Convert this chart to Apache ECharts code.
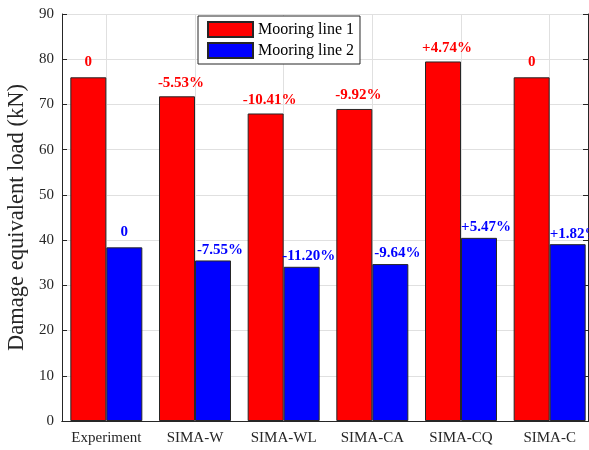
<!DOCTYPE html>
<html>
<head>
<meta charset="utf-8">
<script src="https://cdn.jsdelivr.net/npm/echarts@6/dist/echarts.min.js"></script>
<style>html,body{margin:0;padding:0;background:#fff;}#c{width:589px;height:450px;}</style>
</head>
<body>
<div id="c"></div>
<script>
const categories = ['Experiment', 'SIMA-W', 'SIMA-WL', 'SIMA-CA', 'SIMA-CQ', 'SIMA-C'];
const line1 = [76.0, 71.8, 68.0, 69.0, 79.5, 76.0];
const line2 = [38.4, 35.5, 34.1, 34.7, 40.5, 39.1];
const labels1 = ['0', '-5.53%', '-10.41%', '-9.92%', '+4.74%', '0'];
const labels2 = ['0', '-7.55%', '-11.20%', '-9.64%', '+5.47%', '+1.82%'];
const yTicks = { min: 0, max: 90, interval: 10 };

const FONT = '"Liberation Serif", "Times New Roman", serif';
const AX = '#262626';

function mkData(vals, labs, dx, zeroDy) {
  return vals.map((v, i) => ({
    value: v,
    label: { offset: labs[i] === '0' ? [0, zeroDy] : [dx, 0] }
  }));
}

const chart = echarts.init(document.getElementById('c'), null, { renderer: 'canvas' });
chart.setOption({
  animation: false,
  backgroundColor: '#fff',
  grid: { left: 62, top: 14, width: 532, height: 407, outerBoundsMode: 'none', containLabel: false },
  legend: {
    orient: 'vertical', left: 198, top: 16,
    itemWidth: 45, itemHeight: 15, itemGap: 4,
    padding: [5, 6, 5, 9],
    borderColor: AX, borderWidth: 1, backgroundColor: '#fff',
    icon: 'rect',
    textStyle: { fontFamily: FONT, fontSize: 16, color: '#000', lineHeight: 16 },
    data: ['Mooring line 1', 'Mooring line 2']
  },
  xAxis: [{
    type: 'category', data: categories, position: 'bottom',
    axisLine: { lineStyle: { color: AX, width: 1 } },
    axisTick: { inside: true, alignWithLabel: true, length: 5, lineStyle: { color: AX } },
    axisLabel: { fontFamily: FONT, fontSize: 15, color: AX, margin: 10, interval: 0, hideOverlap: false },
    splitLine: { show: true, alignWithLabel: true, lineStyle: { color: '#e0e0e0' } }
  }, {
    type: 'category', data: categories, position: 'top',
    axisLine: { lineStyle: { color: AX, width: 1 } },
    axisTick: { inside: true, alignWithLabel: true, length: 5, lineStyle: { color: AX } },
    axisLabel: { show: false }, splitLine: { show: false }
  }],
  yAxis: [{
    type: 'value', min: yTicks.min, max: yTicks.max, interval: yTicks.interval,
    name: 'Damage equivalent load (kN)', nameLocation: 'middle', nameGap: 29,
    nameTextStyle: { fontFamily: FONT, fontSize: 22.5, color: AX },
    axisLine: { show: true, lineStyle: { color: AX, width: 1 } },
    axisTick: { show: true, inside: true, length: 5, lineStyle: { color: AX } },
    axisLabel: { fontFamily: FONT, fontSize: 15, color: AX, margin: 8 },
    splitLine: { show: true, lineStyle: { color: '#e0e0e0' } }
  }, {
    type: 'value', min: yTicks.min, max: yTicks.max, interval: yTicks.interval,
    position: 'right', offset: -6,
    axisLine: { show: true, lineStyle: { color: AX, width: 1 } },
    axisTick: { show: true, inside: true, length: 5, lineStyle: { color: AX } },
    axisLabel: { show: false }, splitLine: { show: false }
  }],
  series: [{
    name: 'Mooring line 1', type: 'bar', barWidth: 36, barGap: '0%',
    data: mkData(line1, labels1, 4, -2),
    itemStyle: { color: '#ff0000', borderColor: AX, borderWidth: 1 },
    label: {
      show: true, position: 'top', distance: 6,
      fontFamily: FONT, fontSize: 15, fontWeight: 'bold', color: '#ff0000',
      formatter: p => labels1[p.dataIndex]
    }
  }, {
    name: 'Mooring line 2', type: 'bar', barWidth: 36, barGap: '0%',
    data: mkData(line2, labels2, 7, -5),
    itemStyle: { color: '#0000ff', borderColor: AX, borderWidth: 1 },
    label: {
      show: true, position: 'top', distance: 3,
      fontFamily: FONT, fontSize: 15, fontWeight: 'bold', color: '#0000ff',
      formatter: p => labels2[p.dataIndex]
    }
  }]
});
</script>
</body>
</html>
